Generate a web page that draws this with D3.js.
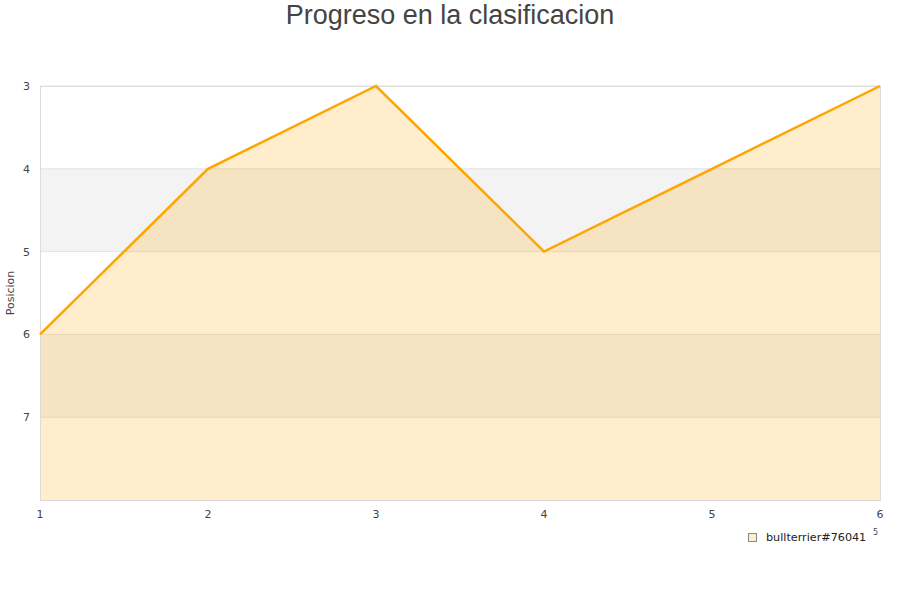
<!DOCTYPE html>
<html><head><meta charset="utf-8">
<script src="https://cdn.jsdelivr.net/npm/d3@7"></script>
<style>body{margin:0;background:#fff;}text{font-family:"DejaVu Sans",sans-serif;}</style>
</head><body>
<svg id="c" width="900" height="600"></svg>
<script>
const rounds = [1, 2, 3, 4, 5, 6];
const positions = [6, 4, 3, 5, 4, 3];
const yTicks = [3, 4, 5, 6, 7];
const bands = [[4, 5], [6, 7]];
const seriesName = "bullterrier#76041";
const title = "Progreso en la clasificacion";
const yTitle = "Posicion";

const svg = d3.select("#c");
const L = 40, R = 880, T = 86, B = 500;
const x = d3.scaleLinear().domain([1, 6]).range([L, R]);
const y = d3.scaleLinear().domain([3, 8]).range([T, B]);

svg.append("text").attr("x", 450).attr("y", 24).attr("text-anchor", "middle")
  .style("font-family", "'Liberation Sans', Arial, sans-serif")
  .attr("font-size", 27).attr("fill", "#444").text(title);

// bands
svg.selectAll("rect.band").data(bands).enter().append("rect")
  .attr("x", L).attr("width", R - L)
  .attr("y", d => y(d[0])).attr("height", d => y(d[1]) - y(d[0]))
  .attr("fill", "#f3f3f3");

// grid
svg.selectAll("line.grid").data(yTicks).enter().append("line")
  .attr("x1", L).attr("x2", R).attr("y1", d => y(d)).attr("y2", d => y(d))
  .attr("stroke", "#e2e2e2").attr("stroke-width", 1);

const pts = rounds.map((r, i) => [r, positions[i]]);
// area
svg.append("path").datum(pts)
  .attr("d", d3.area().x(d => x(d[0])).y0(B).y1(d => y(d[1])))
  .attr("fill", "#ffa500").attr("fill-opacity", 0.2);

// border
svg.append("rect").attr("x", L + 0.5).attr("y", T + 0.5).attr("width", R - L).attr("height", B - T)
  .attr("fill", "none").attr("stroke", "#dcdcdc");

// line
svg.append("path").datum(pts)
  .attr("d", d3.line().x(d => x(d[0])).y(d => y(d[1])))
  .attr("fill", "none").attr("stroke", "#ffa500").attr("stroke-width", 2.5);

// y ticks
svg.selectAll("text.yt").data(yTicks).enter().append("text")
  .attr("x", 30).attr("y", d => y(d) + 4).attr("text-anchor", "end")
  .attr("font-size", 11).attr("fill", "#444").text(d => d);

// x ticks
svg.selectAll("text.xt").data(rounds).enter().append("text")
  .attr("x", d => x(d)).attr("y", 518).attr("text-anchor", "middle")
  .attr("font-size", 11).attr("fill", "#444").text(d => d);

// y title
svg.append("text").attr("transform", "translate(14,293) rotate(-90)")
  .attr("text-anchor", "middle").attr("font-size", 11).attr("fill", "#444").text(yTitle);

// legend
svg.append("rect").attr("x", 748.5).attr("y", 533.5).attr("width", 8).attr("height", 8)
  .attr("fill", "#ffeecc").attr("stroke", "#888");
svg.append("text").attr("x", 766).attr("y", 541).attr("font-size", 11.2).attr("fill", "#222").text(seriesName);
svg.append("text").attr("x", 873).attr("y", 535).attr("font-size", 8).attr("fill", "#444").text("5");
</script>
</body></html>
